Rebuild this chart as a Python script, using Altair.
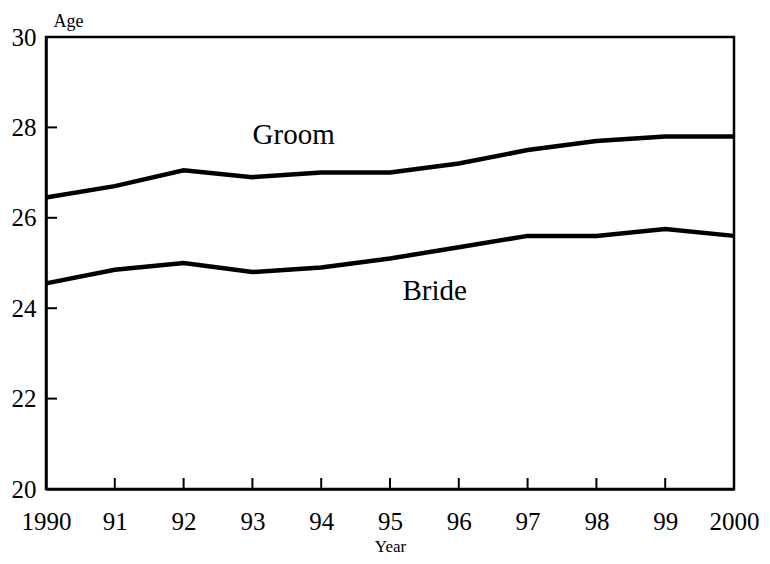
import altair as alt
import pandas as pd

years = [1990, 1991, 1992, 1993, 1994, 1995, 1996, 1997, 1998, 1999, 2000]
groom = [26.45, 26.7, 27.05, 26.9, 27.0, 27.0, 27.2, 27.5, 27.7, 27.8, 27.8]
bride = [24.55, 24.85, 25.0, 24.8, 24.9, 25.1, 25.35, 25.6, 25.6, 25.75, 25.6]
y_ticks = [20, 22, 24, 26, 28, 30]
x_inner_ticks = [1991, 1992, 1993, 1994, 1995, 1996, 1997, 1998, 1999]
series_labels = ["Groom", "Bride"]
label_year = [1993.6, 1995.65]
label_age = [27.83, 24.38]

FONT = "Liberation Serif"
W, H = 688, 452

df = pd.DataFrame({
    "year": years * 2,
    "age": groom + bride,
    "series": ["Groom"] * len(years) + ["Bride"] * len(years),
})
lab = pd.DataFrame({"year": label_year, "age": label_age, "text": series_labels})
xt = pd.DataFrame({"year": x_inner_ticks})
yt = pd.DataFrame({"age": y_ticks})

xscale = alt.Scale(domain=[1990, 2000], nice=False, zero=False)
yscale = alt.Scale(domain=[20, 30], nice=False, zero=False)

xaxis = alt.Axis(
    values=years, title="Year", ticks=False, grid=False,
    labelExpr="datum.value == 1990 || datum.value == 2000 ? '' + datum.value : substring('' + datum.value, 2)",
    labelFont=FONT, labelFontSize=25, labelColor="black", labelPadding=20,
    titleFont=FONT, titleFontSize=17, titleFontWeight="normal", titleColor="black",
    titlePadding=4, domainColor="black", domainWidth=2.5, labelFlush=False,
)
yaxis = alt.Axis(
    values=y_ticks, title="Age", ticks=False, grid=False,
    labelFont=FONT, labelFontSize=25, labelColor="black", labelPadding=10,
    titleFont=FONT, titleFontSize=18, titleFontWeight="normal", titleColor="black",
    titleAngle=0, titleX=22, titleY=-11, titleAlign="center", titleBaseline="alphabetic",
    domainColor="black", domainWidth=2.5,
)

lines = alt.Chart(df).mark_line(color="black", strokeWidth=4.5).encode(
    x=alt.X("year:Q", scale=xscale, axis=xaxis),
    y=alt.Y("age:Q", scale=yscale, axis=yaxis),
    detail="series:N",
)

texts = alt.Chart(lab).mark_text(font=FONT, fontSize=29, color="black").encode(
    x=alt.X("year:Q", scale=xscale),
    y=alt.Y("age:Q", scale=yscale),
    text="text:N",
)

xticks = alt.Chart(xt).mark_rule(color="black", strokeWidth=2).encode(
    x=alt.X("year:Q", scale=xscale),
    y=alt.value(H - 11),
    y2=alt.value(H),
)
yticks = alt.Chart(yt).mark_rule(color="black", strokeWidth=2).encode(
    y=alt.Y("age:Q", scale=yscale),
    x=alt.value(0),
    x2=alt.value(11),
)

chart = alt.layer(lines, xticks, yticks, texts).properties(
    width=W, height=H,
    autosize=alt.AutoSizeParams(type="none"),
    padding={"left": 38, "top": 29, "right": 28, "bottom": 66},
    background="white",
).configure_view(stroke="black", strokeWidth=2.5)

chart.save("out.html", embed_options={"renderer": "svg", "actions": False})
